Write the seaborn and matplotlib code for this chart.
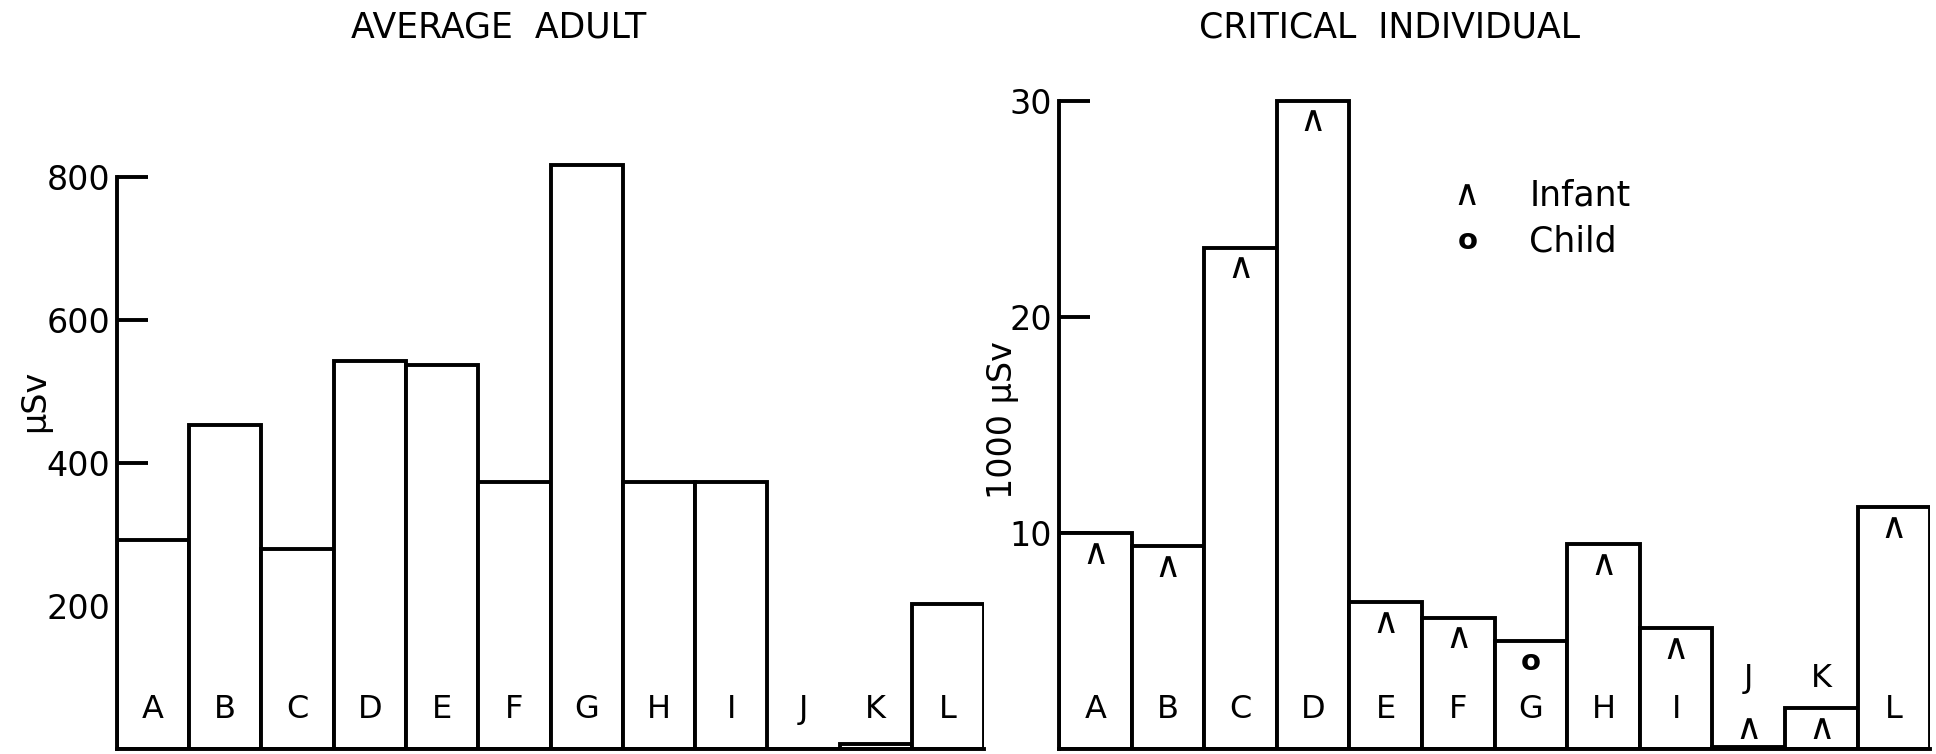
import matplotlib
matplotlib.use("Agg")
import matplotlib.pyplot as plt
import seaborn as sns
import pandas as pd

categories = ["A", "B", "C", "D", "E", "F", "G", "H", "I", "J", "K", "L"]
adult_dose = [292, 453, 280, 543, 537, 374, 817, 373, 373, 1, 8, 203]
critical_dose = [10.0, 9.4, 23.2, 30.0, 6.8, 6.1, 5.0, 9.5, 5.6, 0.1, 1.9, 11.2]
critical_group = ["Infant", "Infant", "Infant", "Infant", "Infant", "Infant", "Child",
                  "Infant", "Infant", "Infant", "Infant", "Infant"]
left_ticks = [200, 400, 600, 800]
right_ticks = [10, 20, 30]
group_symbol = {"Infant": "\u2227", "Child": "o"}
symbol_style = {"Infant": dict(fontsize=26, fontweight="normal"),
                "Child": dict(fontsize=21, fontweight="bold")}

sns.set_theme(style="white")
plt.rcParams["font.family"] = ["DejaVu Sans"]
plt.rcParams["text.color"] = "black"

LW = 2.8
LBL = 23
fig = plt.figure(figsize=(19.36, 7.54), dpi=100)
ax1 = fig.add_axes([0.0604, 0.006, 0.448, 0.788])
ax2 = fig.add_axes([0.547, 0.006, 0.450, 0.875])

df1 = pd.DataFrame({"cat": categories, "val": adult_dose})
df2 = pd.DataFrame({"cat": categories, "val": critical_dose})

for ax, df in [(ax1, df1), (ax2, df2)]:
    sns.barplot(data=df, x="cat", y="val", ax=ax, width=1.0, color="white",
                edgecolor="black", linewidth=LW, saturation=1, errorbar=None)
    ax.set_xlim(-0.5, len(categories) - 0.5)
    ax.set_xlabel("")
    ax.set_ylabel("")
    ax.set_xticks([])
    for s in ["top", "right"]:
        ax.spines[s].set_visible(False)
    for s in ["left", "bottom"]:
        ax.spines[s].set_color("black")
        ax.spines[s].set_linewidth(LW)
    ax.tick_params(axis="y", direction="in", length=22, width=LW, pad=5,
                   labelsize=24, colors="black", labelcolor="black", left=True)
    ax.set_facecolor("white")

ax1.set_ylim(0, 830)
ax1.set_yticks(left_ticks)
ax1.set_yticklabels([str(t) for t in left_ticks])
ax1.spines["left"].set_bounds(0, 800)

ax2.set_ylim(0, 30.5)
ax2.set_yticks(right_ticks)
ax2.set_yticklabels([str(t) for t in right_ticks])
ax2.spines["left"].set_bounds(0, 30)

# category letters inside bars
for i, c in enumerate(categories):
    g = critical_group[i]
    ax1.annotate(c, xy=(i, 0), xytext=(0, 29), textcoords="offset points",
                 ha="center", va="center", fontsize=LBL)
    if c in ("J", "K"):
        ax2.annotate(c, xy=(i, 0), xytext=(0, 51), textcoords="offset points",
                     ha="center", va="center", fontsize=LBL)
        ax2.annotate(group_symbol[g], xy=(i, 0), xytext=(0, 15),
                     textcoords="offset points", ha="center", va="center",
                     **symbol_style[g])
    else:
        ax2.annotate(c, xy=(i, 0), xytext=(0, 29), textcoords="offset points",
                     ha="center", va="center", fontsize=LBL)
        ax2.annotate(group_symbol[g], xy=(i, critical_dose[i]),
                     xytext=(0, -15), textcoords="offset points",
                     ha="center", va="center", **symbol_style[g])

# legend as text
ax2.text(0.468, 0.840, group_symbol["Infant"], transform=ax2.transAxes, ha="center",
         va="center", **symbol_style["Infant"])
ax2.text(0.540, 0.840, "Infant", transform=ax2.transAxes, ha="left", va="center", fontsize=25)
ax2.text(0.469, 0.770, group_symbol["Child"], transform=ax2.transAxes, ha="center",
         va="center", **symbol_style["Child"])
ax2.text(0.540, 0.770, "Child", transform=ax2.transAxes, ha="left", va="center", fontsize=25)

fig.text(0.2577, 0.964, "AVERAGE  ADULT", ha="center", va="center", fontsize=25)
fig.text(0.7175, 0.964, "CRITICAL  INDIVIDUAL", ha="center", va="center", fontsize=25)
fig.text(0.0179, 0.468, "\u03bcSv", rotation=90, ha="center", va="center", fontsize=24)
fig.text(0.518, 0.443, "1000 \u03bcSv", rotation=90, ha="center", va="center", fontsize=24)

fig.savefig("out.png", dpi=100, facecolor="white")
